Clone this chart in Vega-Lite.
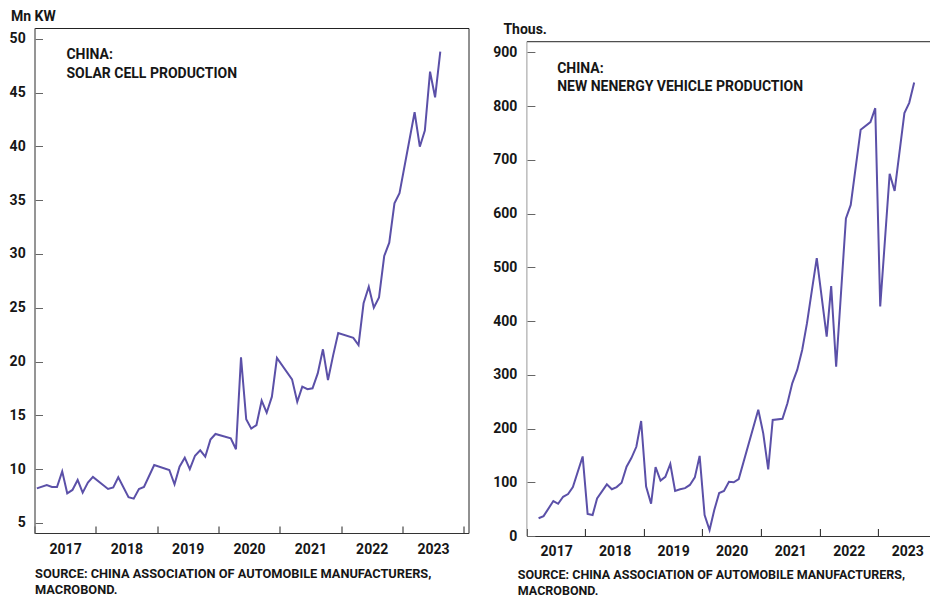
{
  "$schema": "https://vega.github.io/schema/vega-lite/v6.json",
  "background": "white",
  "padding": {"left": 8.5, "top": 9, "right": 0, "bottom": 0},
  "spacing": -3.6,
  "config": {
    "font": "Roboto",
    "view": {"stroke": "#222", "strokeWidth": 1},
    "axis": {"grid": false, "labelFontSize": 14, "labelFontWeight": "bold", "labelColor": "#161616", "titleFontWeight": "bold", "titleColor": "#161616"}
  },
  "datasets": {
    "solar": [
      {"date": "2017-01-15", "value": 8.22},
      {"date": "2017-03-15", "value": 8.53},
      {"date": "2017-04-15", "value": 8.35},
      {"date": "2017-05-15", "value": 8.35},
      {"date": "2017-06-15", "value": 9.8},
      {"date": "2017-07-15", "value": 7.76},
      {"date": "2017-08-15", "value": 8.07},
      {"date": "2017-09-15", "value": 9.0},
      {"date": "2017-10-15", "value": 7.82},
      {"date": "2017-11-15", "value": 8.75},
      {"date": "2017-12-15", "value": 9.28},
      {"date": "2018-03-15", "value": 8.16},
      {"date": "2018-04-15", "value": 8.3},
      {"date": "2018-05-15", "value": 9.25},
      {"date": "2018-07-15", "value": 7.39},
      {"date": "2018-08-15", "value": 7.26},
      {"date": "2018-09-15", "value": 8.16},
      {"date": "2018-10-15", "value": 8.35},
      {"date": "2018-12-15", "value": 10.39},
      {"date": "2019-03-15", "value": 9.93},
      {"date": "2019-04-15", "value": 8.6},
      {"date": "2019-05-15", "value": 10.23},
      {"date": "2019-06-15", "value": 11.07},
      {"date": "2019-07-15", "value": 10.0},
      {"date": "2019-08-15", "value": 11.25},
      {"date": "2019-09-15", "value": 11.75},
      {"date": "2019-10-15", "value": 11.16},
      {"date": "2019-11-15", "value": 12.75},
      {"date": "2019-12-15", "value": 13.27},
      {"date": "2020-03-15", "value": 12.87},
      {"date": "2020-04-15", "value": 11.85},
      {"date": "2020-05-15", "value": 20.4},
      {"date": "2020-06-15", "value": 14.64},
      {"date": "2020-07-15", "value": 13.77},
      {"date": "2020-08-15", "value": 14.1},
      {"date": "2020-09-15", "value": 16.37},
      {"date": "2020-10-15", "value": 15.25},
      {"date": "2020-11-15", "value": 16.74},
      {"date": "2020-12-15", "value": 20.33},
      {"date": "2021-03-15", "value": 18.35},
      {"date": "2021-04-15", "value": 16.27},
      {"date": "2021-05-15", "value": 17.67},
      {"date": "2021-06-15", "value": 17.43},
      {"date": "2021-07-15", "value": 17.52},
      {"date": "2021-08-15", "value": 18.9},
      {"date": "2021-09-15", "value": 21.14},
      {"date": "2021-10-15", "value": 18.29},
      {"date": "2021-11-15", "value": 20.6},
      {"date": "2021-12-15", "value": 22.65},
      {"date": "2022-03-15", "value": 22.2},
      {"date": "2022-04-15", "value": 21.54},
      {"date": "2022-05-15", "value": 25.42},
      {"date": "2022-06-15", "value": 26.96},
      {"date": "2022-07-15", "value": 25.01},
      {"date": "2022-08-15", "value": 25.97},
      {"date": "2022-09-15", "value": 29.81},
      {"date": "2022-10-15", "value": 31.05},
      {"date": "2022-11-15", "value": 34.71},
      {"date": "2022-12-15", "value": 35.64},
      {"date": "2023-03-15", "value": 43.17},
      {"date": "2023-04-15", "value": 39.97},
      {"date": "2023-05-15", "value": 41.46},
      {"date": "2023-06-15", "value": 46.94},
      {"date": "2023-07-15", "value": 44.56},
      {"date": "2023-08-15", "value": 48.8}
    ],
    "nev": [
      {"date": "2017-03-15", "value": 33},
      {"date": "2017-04-15", "value": 37},
      {"date": "2017-06-15", "value": 65},
      {"date": "2017-07-15", "value": 60},
      {"date": "2017-08-15", "value": 73},
      {"date": "2017-09-15", "value": 78},
      {"date": "2017-10-15", "value": 91},
      {"date": "2017-12-15", "value": 148},
      {"date": "2018-01-15", "value": 41},
      {"date": "2018-02-15", "value": 39},
      {"date": "2018-03-15", "value": 70},
      {"date": "2018-05-15", "value": 96},
      {"date": "2018-06-15", "value": 87},
      {"date": "2018-07-15", "value": 91},
      {"date": "2018-08-15", "value": 99},
      {"date": "2018-09-15", "value": 129},
      {"date": "2018-10-15", "value": 145},
      {"date": "2018-11-15", "value": 166},
      {"date": "2018-12-15", "value": 214},
      {"date": "2019-01-15", "value": 92},
      {"date": "2019-02-15", "value": 60},
      {"date": "2019-03-15", "value": 128},
      {"date": "2019-04-15", "value": 103},
      {"date": "2019-05-15", "value": 110},
      {"date": "2019-06-15", "value": 134},
      {"date": "2019-07-15", "value": 84},
      {"date": "2019-08-15", "value": 87},
      {"date": "2019-09-15", "value": 89},
      {"date": "2019-10-15", "value": 95},
      {"date": "2019-11-15", "value": 109},
      {"date": "2019-12-15", "value": 149},
      {"date": "2020-01-15", "value": 39},
      {"date": "2020-02-15", "value": 11},
      {"date": "2020-03-15", "value": 48},
      {"date": "2020-04-15", "value": 80},
      {"date": "2020-05-15", "value": 84},
      {"date": "2020-06-15", "value": 101},
      {"date": "2020-07-15", "value": 100},
      {"date": "2020-08-15", "value": 106},
      {"date": "2020-12-15", "value": 235},
      {"date": "2021-01-15", "value": 191},
      {"date": "2021-02-15", "value": 124},
      {"date": "2021-03-15", "value": 216},
      {"date": "2021-05-15", "value": 218},
      {"date": "2021-06-15", "value": 247},
      {"date": "2021-07-15", "value": 284},
      {"date": "2021-08-15", "value": 309},
      {"date": "2021-09-15", "value": 346},
      {"date": "2021-10-15", "value": 396},
      {"date": "2021-11-15", "value": 458},
      {"date": "2021-12-15", "value": 517},
      {"date": "2022-02-15", "value": 371},
      {"date": "2022-03-15", "value": 465},
      {"date": "2022-04-15", "value": 315},
      {"date": "2022-06-15", "value": 591},
      {"date": "2022-07-15", "value": 616},
      {"date": "2022-09-15", "value": 756},
      {"date": "2022-11-15", "value": 770},
      {"date": "2022-12-15", "value": 796},
      {"date": "2023-01-15", "value": 427},
      {"date": "2023-03-15", "value": 674},
      {"date": "2023-04-15", "value": 642},
      {"date": "2023-06-15", "value": 787},
      {"date": "2023-07-15", "value": 806},
      {"date": "2023-08-15", "value": 844}
    ]
  },
  "hconcat": [
    {
      "width": 434,
      "height": 505,
      "layer": [
        {
          "data": {"name": "solar"},
          "mark": {"type": "line", "color": "#5b50a8", "strokeWidth": 2},
          "encoding": {
            "x": {
              "field": "date", "type": "temporal",
              "scale": {"domain": [{"year": 2017, "month": 1, "date": 1}, {"year": 2024, "month": 1, "date": 30}]},
              "axis": {
                "values": [{"year": 2017, "month": 1, "date": 1}, {"year": 2018, "month": 1, "date": 1}, {"year": 2019, "month": 1, "date": 1}, {"year": 2020, "month": 1, "date": 1}, {"year": 2021, "month": 1, "date": 1}, {"year": 2022, "month": 1, "date": 1}, {"year": 2023, "month": 1, "date": 1}, {"year": 2024, "month": 1, "date": 1}],
                "format": "%Y",
                "labelExpr": "year(datum.value) > 2023 ? '' : datum.label",
                "labelOffset": 30.6,
                "labelBaseline": "top",
                "labelFlush": false, "labelOverlap": false, "labelBound": false,
                "tickSize": -7, "labelPadding": 16.3,
                "domainColor": "#333", "tickColor": "#222",
                "title": ["SOURCE: CHINA ASSOCIATION OF AUTOMOBILE MANUFACTURERS,", "MACROBOND."],
                "titleX": 0, "titleY": 44.2, "titleAlign": "left", "titleAnchor": "start", "titleBaseline": "alphabetic",
                "titleFontSize": 12.8, "titleLineHeight": 16.7
              }
            },
            "y": {
              "field": "value", "type": "quantitative",
              "scale": {"domain": [4.07, 51.0], "nice": false, "zero": false},
              "axis": {
                "values": [5, 10, 15, 20, 25, 30, 35, 40, 45, 50],
                "tickSize": -8, "labelPadding": 17.3,
                "domainColor": "#999", "tickColor": "#666",
                "title": "Mn KW", "titleAngle": 0, "titleX": -24, "titleY": -7.3, "titleAlign": "left", "titleBaseline": "alphabetic",
                "titleFontSize": 14
              }
            }
          }
        },
        {
          "data": {"values": [{}]},
          "mark": {"type": "text", "text": ["CHINA:", "SOLAR CELL PRODUCTION"], "align": "left", "baseline": "alphabetic", "lineHeight": 19, "fontSize": 14, "fontWeight": "bold", "color": "#161616"},
          "encoding": {
            "x": {"datum": {"year": 2017, "month": 7, "date": 10}, "type": "temporal"},
            "y": {"datum": 48.09, "type": "quantitative"}
          }
        }
      ]
    },
    {
      "width": 414.2,
      "height": 508,
      "view": {"stroke": null},
      "layer": [
        {
          "data": {"name": "nev"},
          "mark": {"type": "line", "color": "#5b50a8", "strokeWidth": 2},
          "encoding": {
            "x": {
              "field": "date", "type": "temporal",
              "scale": {"domain": [{"year": 2017, "month": 1, "date": 1}, {"year": 2024, "month": 1, "date": 30}]},
              "axis": {
                "values": [{"year": 2017, "month": 1, "date": 1}, {"year": 2018, "month": 1, "date": 1}, {"year": 2019, "month": 1, "date": 1}, {"year": 2020, "month": 1, "date": 1}, {"year": 2021, "month": 1, "date": 1}, {"year": 2022, "month": 1, "date": 1}, {"year": 2023, "month": 1, "date": 1}, {"year": 2024, "month": 1, "date": 1}],
                "format": "%Y",
                "labelExpr": "year(datum.value) > 2023 ? '' : datum.label",
                "labelOffset": 29.25,
                "labelBaseline": "top",
                "labelFlush": false, "labelOverlap": false, "labelBound": false,
                "tickSize": -7.5, "labelPadding": 15.8,
                "domainColor": "#333", "tickColor": "#222",
                "title": ["SOURCE: CHINA ASSOCIATION OF AUTOMOBILE MANUFACTURERS,", "MACROBOND."],
                "titleX": -9.6, "titleY": 42.8, "titleAlign": "left", "titleAnchor": "start", "titleBaseline": "alphabetic",
                "titleFontSize": 12.5, "titleLineHeight": 15.5
              }
            },
            "y": {
              "field": "value", "type": "quantitative",
              "scale": {"domain": [0, 945.2], "nice": false},
              "axis": {
                "values": [0, 100, 200, 300, 400, 500, 600, 700, 800, 900],
                "tickSize": -8, "labelPadding": 18,
                "domain": false, "tickColor": "#666",
                "title": "Thous.", "titleAngle": 0, "titleX": -24, "titleY": 5.3, "titleAlign": "left", "titleBaseline": "alphabetic",
                "titleFontSize": 14
              }
            }
          }
        },
        {
          "data": {"values": [{}]},
          "mark": {"type": "rule", "color": "#222", "strokeWidth": 1},
          "encoding": {
            "y": {"datum": 919.7, "type": "quantitative"}
          }
        },
        {
          "data": {"values": [{}]},
          "mark": {"type": "rule", "color": "#999", "strokeWidth": 1},
          "encoding": {
            "x": {"datum": {"year": 2017, "month": 1, "date": 1}, "type": "temporal"},
            "y": {"datum": 0, "type": "quantitative"},
            "y2": {"datum": 919.7}
          }
        },
        {
          "data": {"values": [{}]},
          "mark": {"type": "text", "text": ["CHINA:", "NEW NENERGY VEHICLE PRODUCTION"], "align": "left", "baseline": "alphabetic", "lineHeight": 18, "fontSize": 14, "fontWeight": "bold", "color": "#161616"},
          "encoding": {
            "x": {"datum": {"year": 2017, "month": 7, "date": 9}, "type": "temporal"},
            "y": {"datum": 861.3, "type": "quantitative"}
          }
        }
      ]
    }
  ]
}
